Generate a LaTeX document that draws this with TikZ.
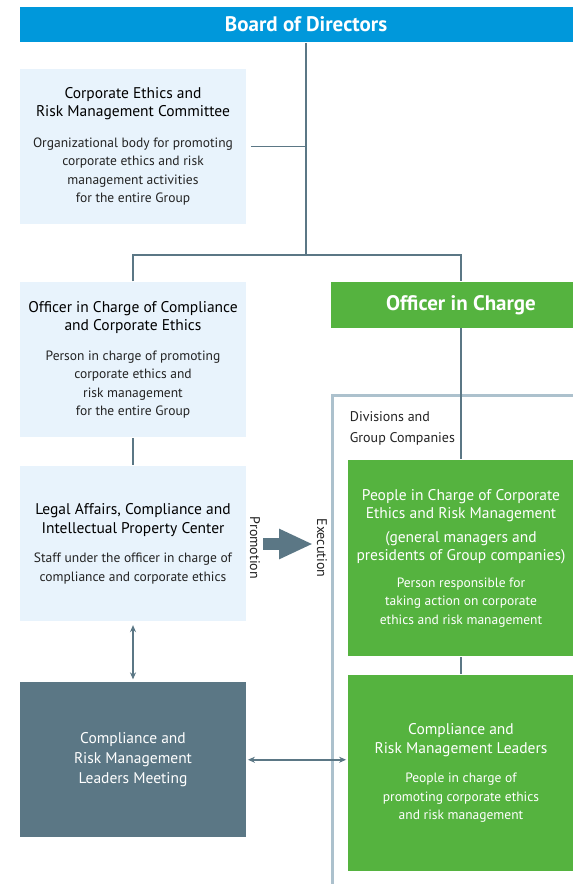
\documentclass[tikz,border=0pt]{standalone}
\usepackage{fontspec}
\setmainfont{PT Sans}
\usetikzlibrary{arrows.meta,calc,positioning}
\definecolor{dirblue}{RGB}{0,152,219}
\definecolor{iceblue}{RGB}{232,243,252}
\definecolor{slate}{RGB}{91,119,133}
\definecolor{leafgreen}{RGB}{85,179,63}
\definecolor{framegray}{RGB}{172,193,205}
\definecolor{inkdark}{RGB}{35,35,35}
\newcommand\hdsize{\fontsize{15.5}{19.5}\selectfont}
\newcommand\txsize{\fontsize{13.5}{18.5}\selectfont}
\newcommand\hd[1]{{\hdsize\color{black}#1}}

\begin{document}
\begin{tikzpicture}[x=1pt, y=-1pt, line width=1.8pt, >={Stealth[length=7pt,width=6pt]},
  pale/.style={fill=iceblue, text=inkdark, minimum width=226pt, minimum height=155pt, align=center, inner sep=0pt, font=\txsize},
  slatebox/.style={fill=slate, text=white, minimum width=226pt, minimum height=155pt, align=center, inner sep=0pt, font=\txsize},
  greenbox/.style={fill=leafgreen, text=white, minimum width=226pt, minimum height=196pt, align=center, inner sep=0pt, font=\txsize},
  banner/.style={text=white, inner sep=0pt, font=\bfseries\fontsize{21}{24}\selectfont},
  side/.style={rotate=-90, font=\fontsize{14}{18}\selectfont, text=inkdark, inner sep=0pt},
  link/.style={draw=slate}]
\path[use as bounding box, clip] (0,0) rectangle (573,884);
% frame of the divisions and group companies
\draw[framegray, line width=3pt] (332,900) |- (600,395);
\node[anchor=north west, align=left, font=\fontsize{14}{21}\selectfont, text=inkdark, inner sep=0pt] (divs) at (349,411) {Divisions and\\Group Companies};

\node[banner, fill=dirblue, minimum width=572pt, minimum height=35pt] (bod) at (306,24.5) {Board of Directors};
\node[pale] (cerm) at (133,146.5) {\hd{Corporate Ethics and}\\\hd{Risk Management Committee}\\[12pt]Organizational body for promoting\\corporate ethics and risk\\management activities\\for the entire Group};
\node[pale] (occe) at (133,359.75) {\hd{Officer in Charge of Compliance}\\\hd{and Corporate Ethics}\\[11pt]Person in charge of promoting\\corporate ethics and\\risk management\\for the entire Group};
\node[pale] (legal) at (133,543.75) {\hd{Legal Affairs, Compliance and}\\\hd{Intellectual Property Center}\\[11pt]Staff under the officer in charge of\\compliance and corporate ethics};
\node[slatebox, font=\fontsize{15.5}{20}\selectfont] (meet) at (133,759.75) {Compliance and\\Risk Management\\Leaders Meeting};
\node[banner, fill=leafgreen, minimum width=260pt, minimum height=45.5pt] (oic) at (461,304.75) {Officer in Charge};
\node[greenbox] (pic) at (461,558.25) {{\hdsize People in Charge of Corporate}\\{\hdsize Ethics and Risk Management}\\[5pt]{\hdsize (general managers and}\\{\hdsize presidents of Group companies)}\\[8pt]Person responsible for\\taking action on corporate\\ethics and risk management};
\node[greenbox] (crml) at (461,773.25) {{\hdsize Compliance and}\\{\hdsize Risk Management Leaders}\\[11pt]People in charge of\\promoting corporate ethics\\and risk management};

\node[side] (promo) at (255,548) {Promotion};
\node[side] (exec) at (322,548) {Execution};

\coordinate (split) at (306,255);
\draw[link] (bod.south -| split) -- (split);
\draw[link, shorten <=4pt] (cerm.east) -- (cerm.east -| split);
\draw[link] (occe.north) |- (split) -| (oic.north);
\draw[link] (occe) -- (legal);
\draw[link] (oic) -- (pic);
\draw[link] (pic) -- (crml);
\draw[link, <->, shorten <=3pt, shorten >=2pt] (legal) -- (meet);
\draw[link, <->, shorten <=1pt, shorten >=1pt] (meet.east) -- (meet.east -| crml.west);
\draw[slate, line width=11.5pt, -{Triangle[length=34pt,width=28pt]}, shorten <=8pt, shorten >=9pt] (promo.center |- 0,544) -- (exec.center |- 0,544);
\end{tikzpicture}
\end{document}
